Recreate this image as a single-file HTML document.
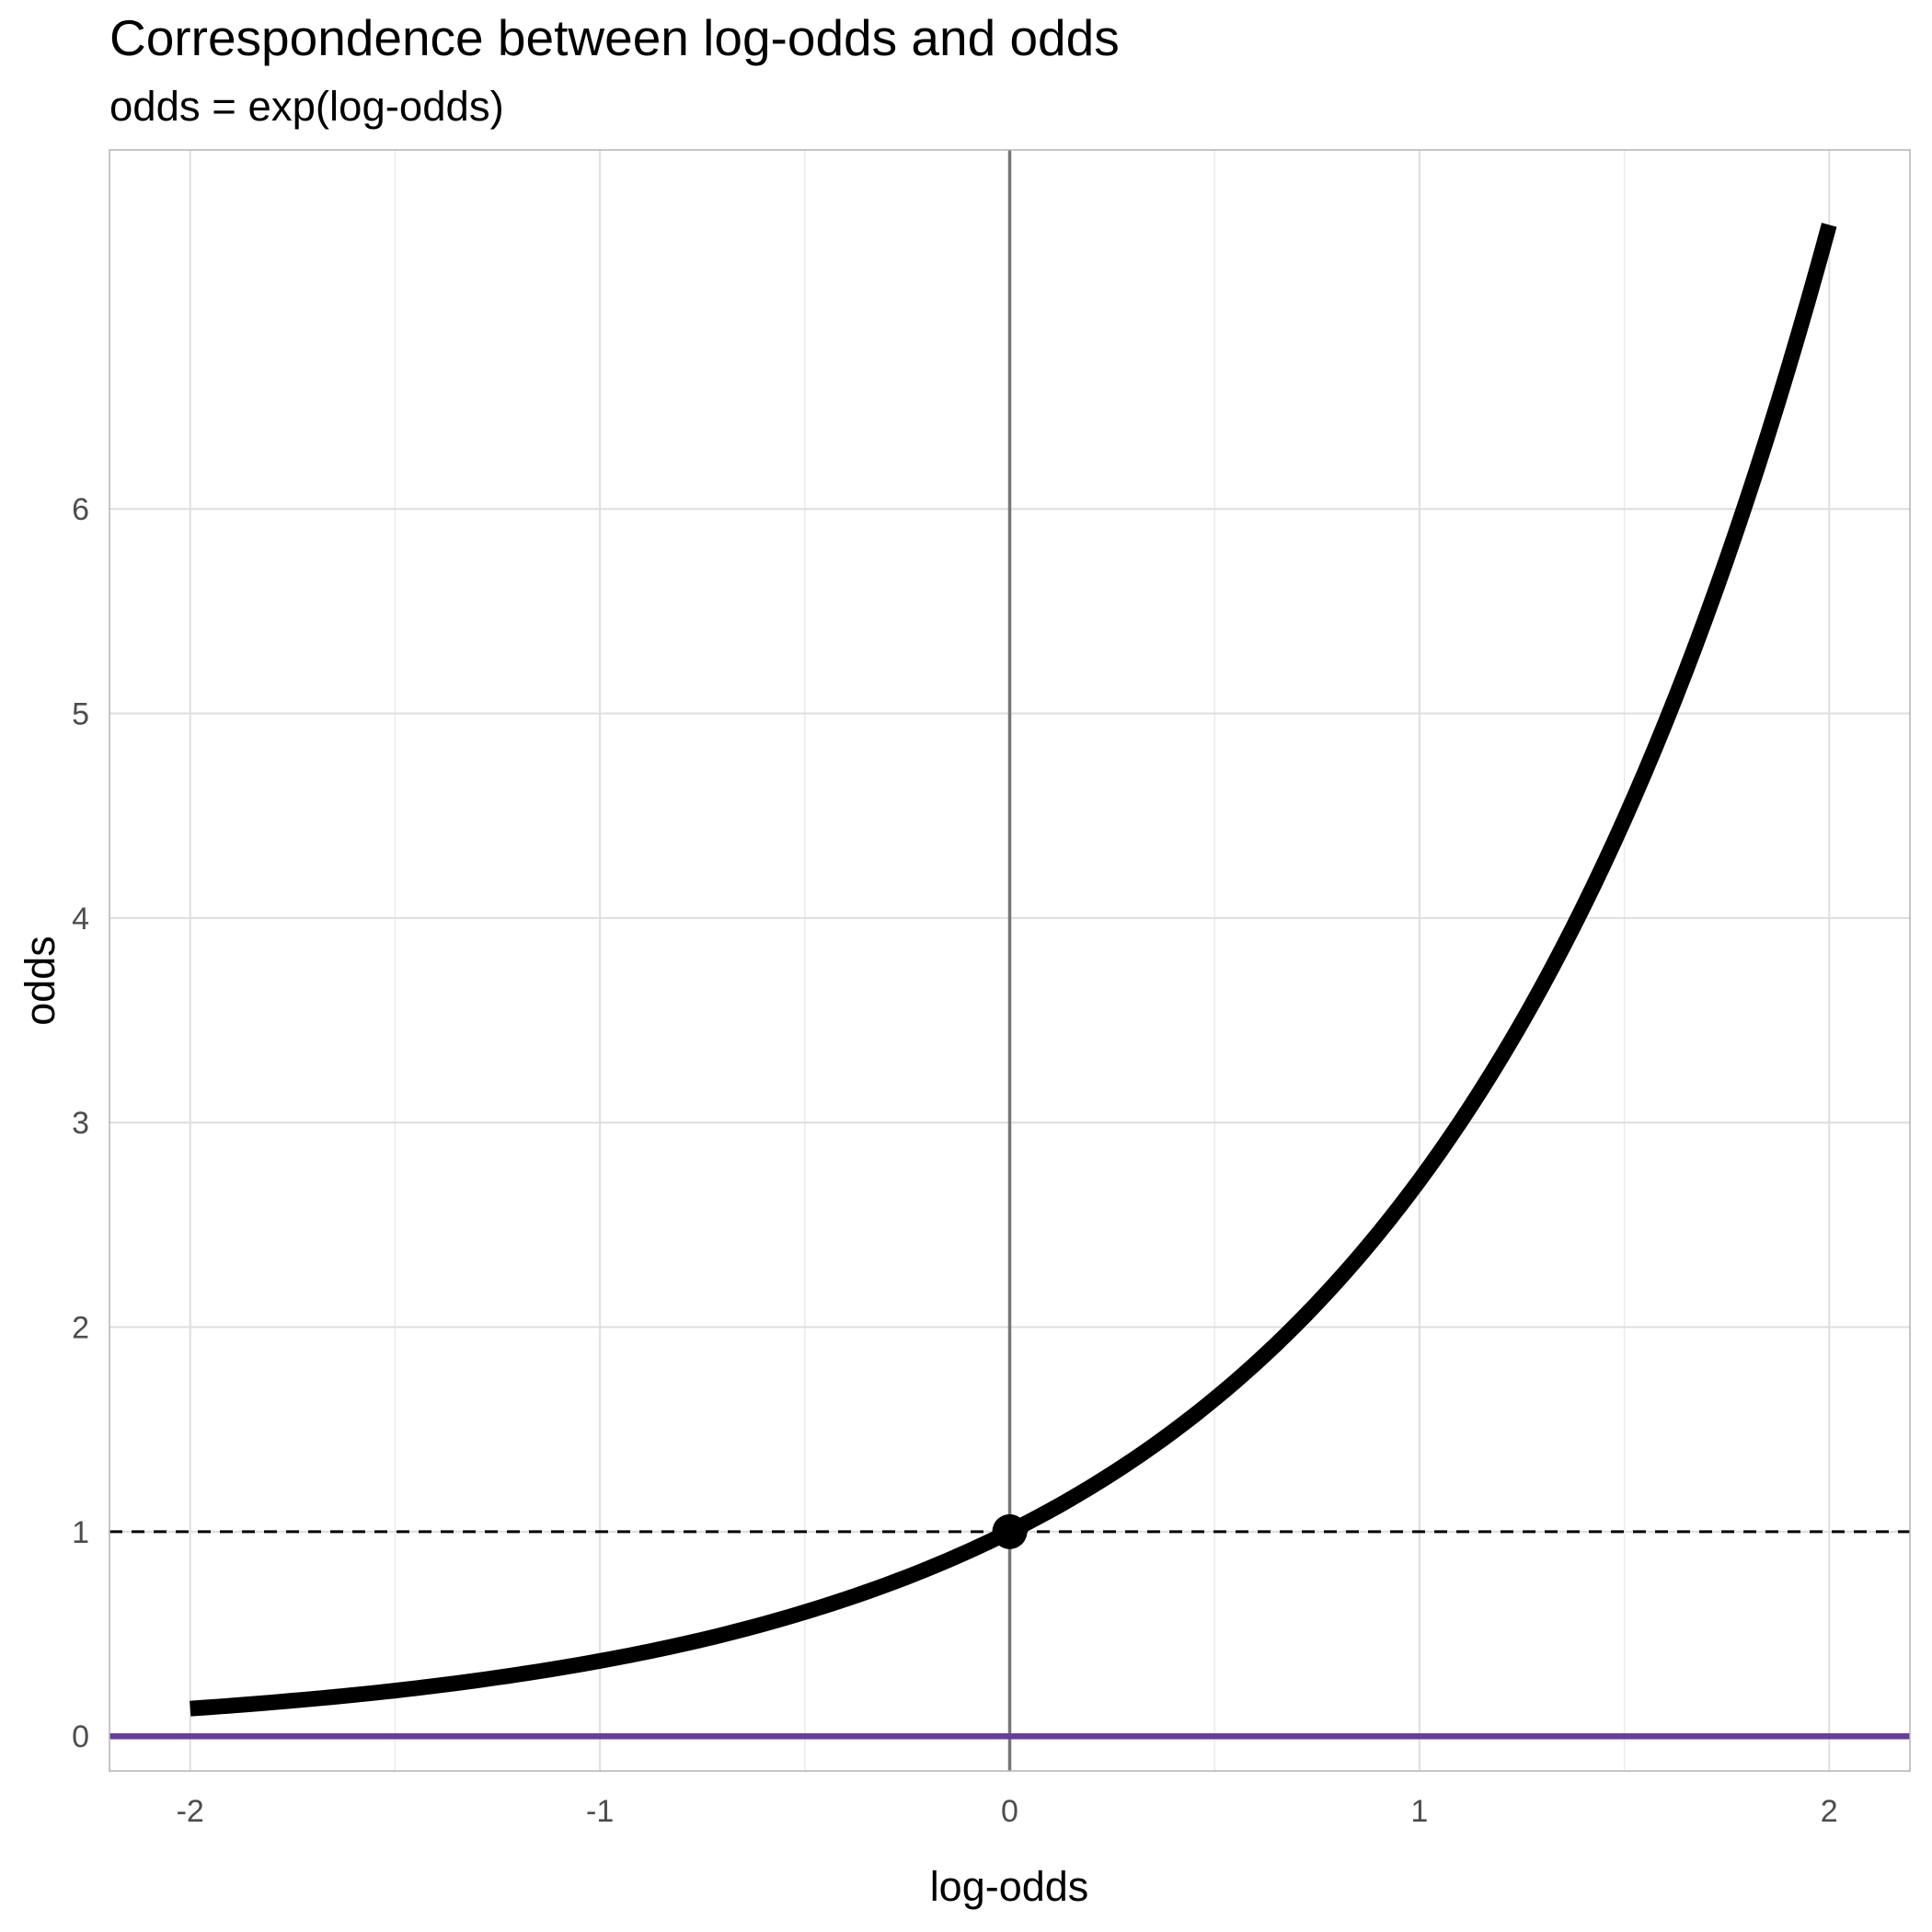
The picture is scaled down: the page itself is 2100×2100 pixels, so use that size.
<!DOCTYPE html>
<html><head><meta charset="utf-8"><style>
html,body{margin:0;padding:0;background:#fff;}
svg{display:block;font-family:"Liberation Sans",Arial,sans-serif;}
</style></head><body>
<svg id="chart" width="2100" height="2100" viewBox="0 0 2100 2100">
<text x="119" y="60" font-size="55" fill="#000">Correspondence between log-odds and odds</text>
<text x="119" y="131" font-size="45.5" fill="#000">odds = exp(log-odds)</text>
<g id="grid"></g>
<g id="marks"></g>
<rect x="119" y="163" width="1957" height="1762" fill="none" stroke="#b3b3b3" stroke-width="1.5"/>
<g id="axes"></g>
<text x="1097" y="2066" font-size="45" text-anchor="middle" fill="#000">log-odds</text>
<text transform="translate(59,1066) rotate(-90)" font-size="45" text-anchor="middle" fill="#000">odds</text>
</svg>
<script>
const curveX = [-2,-1.75,-1.5,-1.25,-1,-0.75,-0.5,-0.25,0,0.25,0.5,0.75,1,1.25,1.5,1.75,2];
const curveY = [0.135,0.174,0.223,0.287,0.368,0.472,0.607,0.779,1,1.284,1.649,2.117,2.718,3.490,4.482,5.755,7.389];
const xTicks = [-2,-1,0,1,2];
const xTickLabels = ["-2","-1","0","1","2"];
const xMinor = [-1.5,-0.5,0.5,1.5];
const yTicks = [0,1,2,3,4,5,6];
const yTickLabels = ["0","1","2","3","4","5","6"];
const refPoint = [0,1];

const NS="http://www.w3.org/2000/svg";
const X0=119,X1=2076,Y0=163,Y1=1925;
const xmin=-2.197,xmax=2.197,ymin=-0.17,ymax=7.755;
const sx=v=>X0+(v-xmin)/(xmax-xmin)*(X1-X0);
const sy=v=>Y1-(v-ymin)/(ymax-ymin)*(Y1-Y0);
function mk(tag,attrs,parent){const e=document.createElementNS(NS,tag);for(const k in attrs)e.setAttribute(k,attrs[k]);parent.appendChild(e);return e;}
const grid=document.getElementById('grid'),marks=document.getElementById('marks'),axes=document.getElementById('axes');
xMinor.forEach(v=>{const l=mk('line',{x1:sx(v),x2:sx(v),y1:Y0,y2:Y1,stroke:'#ebebeb','stroke-width':1.5},grid);

});
xTicks.forEach((v,i)=>{const l=mk('line',{x1:sx(v),x2:sx(v),y1:Y0,y2:Y1,stroke:'#dedede','stroke-width':2},grid);


const t=mk('text',{x:sx(v),y:1980,'font-size':34,'text-anchor':'middle',fill:'#4d4d4d'},axes);t.textContent=xTickLabels[i];

});
yTicks.forEach((v,i)=>{const l=mk('line',{x1:X0,x2:X1,y1:sy(v),y2:sy(v),stroke:'#dedede','stroke-width':2},grid);


const t=mk('text',{x:97,y:sy(v)+12,'font-size':34,'text-anchor':'end',fill:'#4d4d4d'},axes);t.textContent=yTickLabels[i];

});
const vl=mk('line',{x1:sx(0),x2:sx(0),y1:Y0,y2:Y1,stroke:'#777','stroke-width':3.5},marks);


const hl=mk('line',{x1:X0,x2:X1,y1:sy(0),y2:sy(0),stroke:'#6a3d9a','stroke-width':6.5},marks);


const dl=mk('line',{x1:X0,x2:X1,y1:sy(1),y2:sy(1),stroke:'#000','stroke-width':3,'stroke-dasharray':'14 10'},marks);


let d='';
for(let i=0;i<curveX.length-1;i++){
  const x0=curveX[i],x1=curveX[i+1],y0=curveY[i],y1=curveY[i+1];
  if(i===0)d+='M'+sx(x0)+','+sy(y0);
  for(let k=1;k<=10;k++){const f=k/10;d+=' L'+sx(x0+(x1-x0)*f)+','+sy(y0*Math.pow(y1/y0,f));}
}
const c=mk('path',{d:d,fill:'none',stroke:'#000','stroke-width':17},marks);


const p=mk('circle',{cx:sx(refPoint[0]),cy:sy(refPoint[1]),r:19,fill:'#000'},marks);


</script>
</body></html>
